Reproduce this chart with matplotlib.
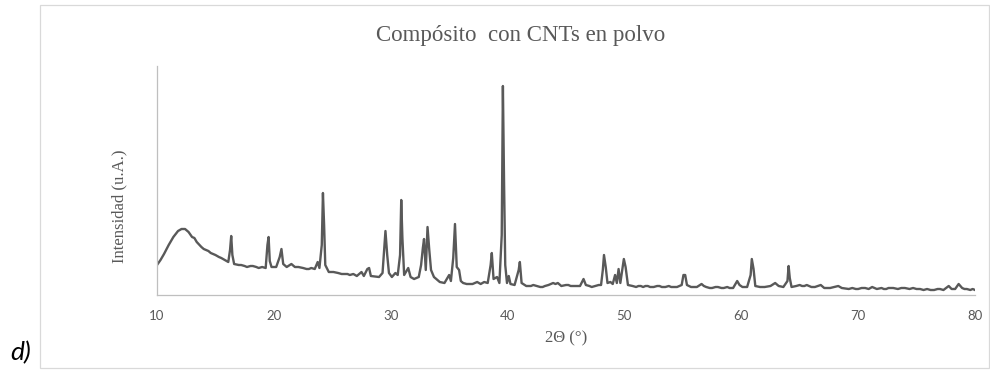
import matplotlib
matplotlib.use("Agg")
import matplotlib.pyplot as plt
from matplotlib.patches import Rectangle

# XRD pattern of the CNT composite powder (2-theta in degrees, intensity in arbitrary units)
two_theta = [
    10.0, 10.3, 10.6, 11.0, 11.4, 11.8, 12.1, 12.4, 12.7, 13.0, 13.2, 13.4, 13.8, 14.0, 14.2, 14.4, 14.6, 14.8,
    15.0, 15.3, 15.5, 15.8, 16.1, 16.25, 16.35, 16.45, 16.6, 17.0, 17.2, 17.5, 17.7, 18.0, 18.2, 18.5, 18.7, 19.0,
    19.3, 19.45, 19.55, 19.65, 19.8, 20.2, 20.5, 20.65, 20.8, 21.1, 21.5, 21.8, 22.1, 22.5, 22.8, 23.0, 23.2, 23.5,
    23.75, 23.9, 24.1, 24.2, 24.3, 24.4, 24.7, 25.1, 25.5, 25.8, 26.0, 26.3, 26.5, 26.8, 27.1, 27.5, 27.7, 28.0,
    28.15, 28.3, 29.0, 29.3, 29.55, 29.7, 29.85, 30.1, 30.4, 30.6, 30.8, 30.9, 31.0, 31.15, 31.5, 31.7, 32.0, 32.4,
    32.6, 32.75, 32.85, 33.0, 33.15, 33.3, 33.45, 33.7, 34.2, 34.6, 35.0, 35.15, 35.35, 35.5, 35.65, 35.85, 36.0, 36.2,
    36.5, 36.8, 37.0, 37.4, 37.7, 38.0, 38.3, 38.55, 38.65, 38.8, 39.1, 39.3, 39.5, 39.6, 39.7, 39.8, 39.95, 40.1,
    40.25, 40.6, 40.95, 41.05, 41.2, 41.6, 42.0, 42.2, 42.5, 42.8, 43.0, 43.2, 43.5, 43.9, 44.1, 44.3, 44.6, 45.0,
    45.2, 45.4, 45.6, 45.8, 46.2, 46.5, 46.7, 47.0, 47.2, 47.5, 47.8, 48.0, 48.15, 48.25, 48.4, 48.55, 48.8, 49.0,
    49.2, 49.35, 49.5, 49.65, 49.95, 50.1, 50.3, 50.7, 51.0, 51.2, 51.4, 51.6, 51.8, 52.0, 52.2, 52.5, 52.8, 53.0,
    53.2, 53.5, 53.8, 54.0, 54.2, 54.5, 54.9, 55.05, 55.2, 55.35, 55.7, 56.2, 56.6, 56.8, 57.0, 57.3, 57.5, 57.8,
    58.0, 58.3, 58.5, 58.8, 59.0, 59.3, 59.65, 59.85, 60.1, 60.5, 60.8, 60.9, 61.05, 61.2, 61.6, 62.0, 62.5, 62.9,
    63.2, 63.6, 63.95, 64.05, 64.15, 64.3, 64.7, 65.0, 65.2, 65.4, 65.6, 65.8, 66.0, 66.3, 66.8, 67.1, 67.6, 68.3,
    68.6, 69.2, 69.5, 69.8, 70.0, 70.3, 70.6, 70.9, 71.2, 71.6, 72.0, 72.2, 72.4, 72.6, 73.0, 73.4, 73.7, 74.0,
    74.4, 74.7, 75.0, 75.3, 75.6, 75.9, 76.2, 76.5, 76.8, 77.0, 77.3, 77.75, 78.0, 78.3, 78.6, 78.9, 79.1, 79.3,
    79.6, 79.8, 80.0,
]
intensity = [
    30, 35, 41, 50, 58, 64, 66, 66, 63, 58, 57, 53, 48, 46, 45, 44, 42, 41,
    40, 38, 37, 35, 33, 45, 59, 40, 31, 30, 30, 29, 28, 29, 29, 28, 27, 28,
    27, 50, 58, 34, 28, 28, 38, 46, 31, 28, 31, 28, 28, 27, 26, 26, 27, 26,
    33, 27, 50, 102, 70, 30, 23, 23, 22, 21, 21, 21, 20, 21, 19, 23, 19, 26,
    27, 19, 18, 22, 64, 40, 22, 18, 22, 20, 40, 95, 57, 20, 27, 18, 16, 18,
    30, 47, 56, 25, 68, 45, 25, 18, 13, 12, 20, 14, 37, 71, 28, 25, 14, 12,
    11, 11, 11, 13, 11, 13, 12, 30, 42, 16, 18, 12, 60, 209, 112, 30, 12, 19,
    11, 10, 25, 33, 12, 9, 9, 10, 9, 8, 8, 9, 10, 12, 11, 12, 9, 10,
    10, 9, 9, 9, 9, 16, 10, 9, 8, 9, 10, 10, 25, 40, 28, 12, 13, 11,
    20, 12, 26, 12, 36, 28, 10, 9, 8, 9, 9, 8, 9, 9, 8, 8, 9, 9,
    8, 8, 9, 8, 8, 8, 10, 20, 20, 10, 8, 8, 11, 9, 8, 7, 7, 8,
    8, 7, 7, 8, 7, 7, 14, 10, 8, 8, 20, 36, 26, 9, 8, 8, 9, 12,
    9, 8, 14, 29, 17, 8, 9, 10, 9, 9, 10, 9, 8, 8, 10, 7, 7, 9,
    7, 6, 7, 6, 6, 7, 7, 6, 8, 6, 7, 6, 6, 7, 7, 6, 7, 7,
    6, 7, 6, 6, 5, 6, 5, 5, 6, 6, 5, 9, 6, 6, 11, 7, 6, 6,
    5, 6, 5,
]
x_ticks = [10, 20, 30, 40, 50, 60, 70, 80]

W, H = 990, 377
fig = plt.figure(figsize=(W / 100, H / 100), dpi=100)

def fx(px):
    return px / W

def fy(py):
    return 1 - py / H

# outer chart frame
fig.add_artist(Rectangle((fx(40), fy(368)), fx(989) - fx(40), fy(5) - fy(368),
                         transform=fig.transFigure, fill=False,
                         edgecolor="#d9d9d9", linewidth=0.9))

ax = fig.add_axes([fx(157), fy(295), fx(975) - fx(157), fy(66) - fy(295)])
ax.plot(two_theta, intensity, color="#595959", linewidth=1.7, solid_joinstyle="round")

ax.set_xlim(10, 80)
ax.set_ylim(0, 229)
ax.set_xticks(x_ticks)
ax.set_xticklabels([str(t) for t in x_ticks], family="Lato", fontsize=9.5, color="#595959")
ax.set_yticks([])
ax.tick_params(axis="x", length=0, pad=11)

for side in ("top", "right"):
    ax.spines[side].set_visible(False)
for side in ("left", "bottom"):
    ax.spines[side].set_color("#bfbfbf")
    ax.spines[side].set_linewidth(0.9)

serif = "Liberation Serif"
fig.text(fx(521), fy(41), "Compósito  con CNTs en polvo", family=serif, fontsize=16.5,
         color="#595959", ha="center", va="baseline")
fig.text(fx(566), fy(338), "2Θ (°)", family=serif, fontsize=12,
         color="#595959", ha="center", va="center")
fig.text(fx(119), fy(206), "Intensidad (u.A.)", family=serif, fontsize=12,
         color="#595959", ha="center", va="center", rotation=90)
fig.text(fx(21), fy(353), "d)", family="Lato", style="italic", fontsize=19,
         color="#000000", ha="center", va="center")

fig.savefig("out.png", dpi=100)
